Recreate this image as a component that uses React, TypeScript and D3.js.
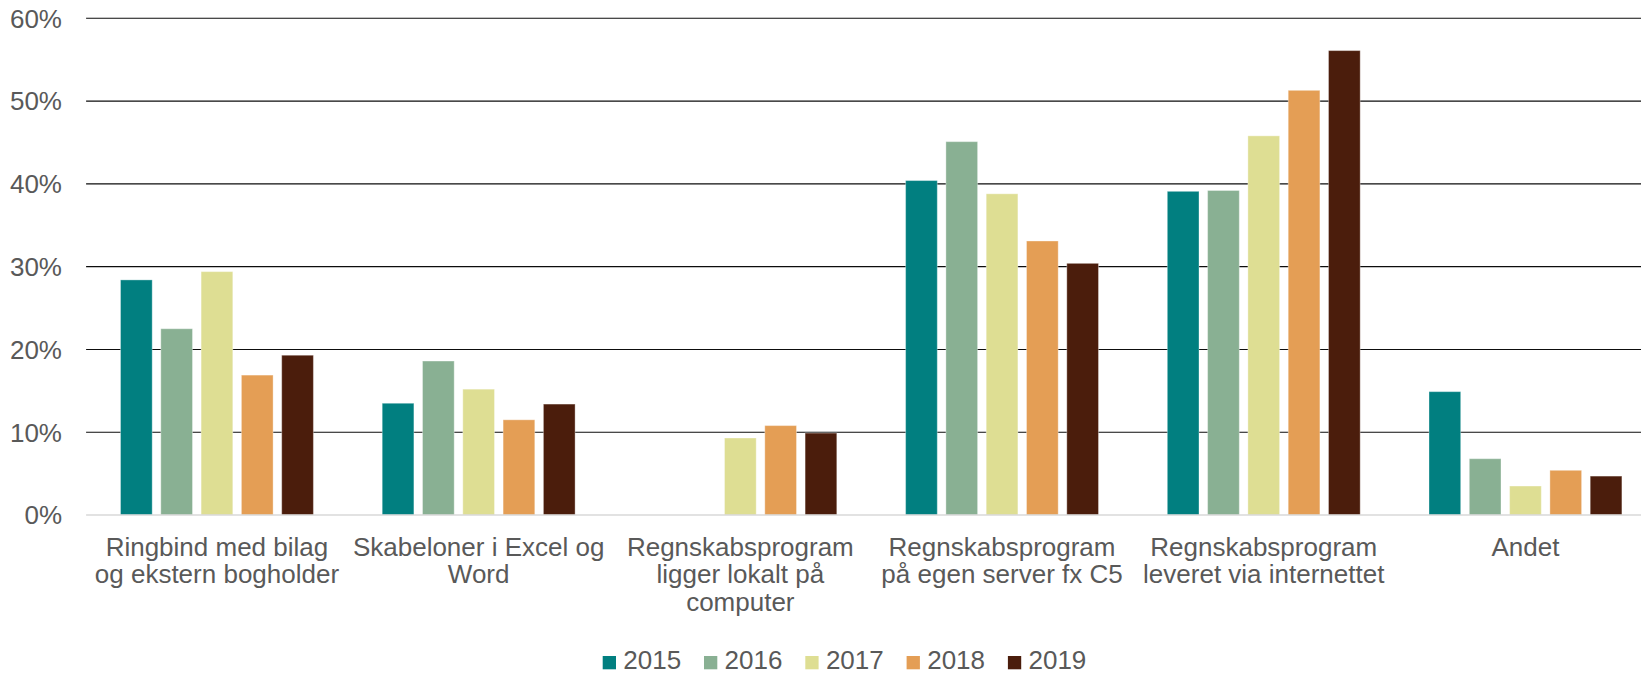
import React from "react";
import * as d3 from "d3";

const categories: string[][] = [
  ["Ringbind med bilag", "og ekstern bogholder"],
  ["Skabeloner i Excel og", "Word"],
  ["Regnskabsprogram", "ligger lokalt på", "computer"],
  ["Regnskabsprogram", "på egen server fx C5"],
  ["Regnskabsprogram", "leveret via internettet"],
  ["Andet"],
];

const seriesNames = ["2015", "2016", "2017", "2018", "2019"];
const seriesColors = ["#017F80", "#89B093", "#DEDE93", "#E49E55", "#4B1D0C"];

const values2015: (number | null)[] = [28.4, 13.5, null, 40.4, 39.1, 14.9];
const values2016: (number | null)[] = [22.5, 18.6, null, 45.1, 39.2, 6.8];
const values2017: (number | null)[] = [29.4, 15.2, 9.3, 38.8, 45.8, 3.5];
const values2018: (number | null)[] = [16.9, 11.5, 10.8, 33.1, 51.3, 5.4];
const values2019: (number | null)[] = [19.3, 13.4, 9.9, 30.4, 56.1, 4.7];

const seriesValues = [values2015, values2016, values2017, values2018, values2019];

const yTicks = [0, 10, 20, 30, 40, 50, 60];
const yTickLabels = ["0%", "10%", "20%", "30%", "40%", "50%", "60%"];

const W = 1641;
const H = 674;
const plotLeft = 86.1;
const plotRight = 86.1 + 6 * 261.7;
const yBase = 515;
const yTop = 18.3;
const font = "'Liberation Sans', Arial, sans-serif";
const textColor = "#595959";

export default function App() {
  const x = d3
    .scaleBand<number>()
    .domain(categories.map((_, i) => i))
    .range([plotLeft, plotRight])
    .paddingInner(1 - 192.9 / 261.7)
    .paddingOuter((1 - 192.9 / 261.7) / 2);
  const xInner = d3
    .scaleBand<number>()
    .domain(seriesNames.map((_, i) => i))
    .range([0, x.bandwidth()])
    .paddingInner(0.2134)
    .paddingOuter(0);
  const y = d3.scaleLinear().domain([0, 60]).range([yBase, yTop]);

  const legendX0 = 602.7;
  const legendStep = 101.3;

  return (
    <svg
      width={W}
      height={H}
      style={{ position: "absolute", left: 0, top: 0, background: "#fff" }}
      fontFamily={font}
    >
      <rect x={0} y={0} width={W} height={H} fill="#fff" />
      {yTicks.map((t, i) => (
        <g key={t}>
          {t !== 0 && (
            <line
              x1={plotLeft}
              x2={W}
              y1={y(t)}
              y2={y(t)}
              stroke="#0d0d0d"
              strokeWidth={1.1}
            />
          )}
          <text
            x={62}
            y={y(t)}
            dy="0.36em"
            textAnchor="end"
            fontSize={26}
            fill={textColor}
          >
            {yTickLabels[i]}
          </text>
        </g>
      ))}
      {seriesValues.map((vals, si) =>
        vals.map((v, ci) =>
          v == null ? null : (
            <rect
              key={`${si}-${ci}`}
              x={(x(ci) as number) + (xInner(si) as number)}
              y={y(v)}
              width={xInner.bandwidth()}
              height={y(0) - y(v)}
              fill={seriesColors[si]}
              stroke="#ffffff"
              strokeOpacity={0.35}
              strokeWidth={1}
            />
          )
        )
      )}
      <line
        x1={plotLeft}
        x2={W}
        y1={yBase}
        y2={yBase}
        stroke="#d9d9d9"
        strokeWidth={1.5}
      />
      {categories.map((lines, ci) => (
        <text
          key={ci}
          x={(x(ci) as number) + x.bandwidth() / 2}
          y={556}
          textAnchor="middle"
          fontSize={26}
          fill={textColor}
        >
          {lines.map((ln, li) => (
            <tspan
              key={li}
              x={(x(ci) as number) + x.bandwidth() / 2}
              dy={li === 0 ? 0 : 27.3}
            >
              {ln}
            </tspan>
          ))}
        </text>
      ))}
      {seriesNames.map((name, si) => (
        <g key={name} transform={`translate(${legendX0 + si * legendStep},0)`}>
          <rect x={0} y={656} width={13.3} height={13.3} fill={seriesColors[si]} />
          <text x={20.6} y={669.3} fontSize={26} fill={textColor}>
            {name}
          </text>
        </g>
      ))}
    </svg>
  );
}
